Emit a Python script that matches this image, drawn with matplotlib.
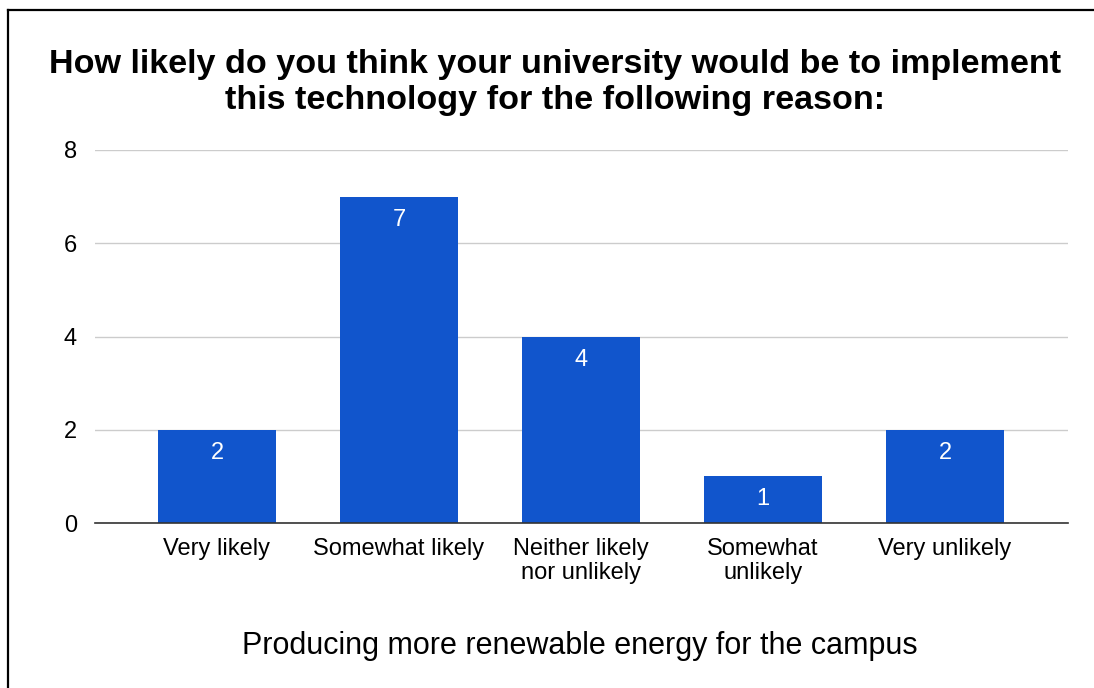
import matplotlib
matplotlib.use("Agg")
import matplotlib.pyplot as plt
from matplotlib.lines import Line2D

categories = ["Very likely", "Somewhat likely", "Neither likely\nnor unlikely",
              "Somewhat\nunlikely", "Very unlikely"]
counts = [2, 7, 4, 1, 2]
y_ticks = [0, 2, 4, 6, 8]

title = ("How likely do you think your university would be to implement\n"
         "this technology for the following reason:")
x_title = "Producing more renewable energy for the campus"

plt.rcParams["font.family"] = ["Liberation Sans", "DejaVu Sans"]

W, H = 1094, 688
fig = plt.figure(figsize=(W / 100, H / 100), dpi=100)
fig.patch.set_facecolor("white")

# plot area in pixel coordinates
left, right, top, bottom = 95, 1068, 150, 523
ax = fig.add_axes([left / W, 1 - bottom / H, (right - left) / W, (bottom - top) / H])

bar_color = "#1155cc"
x = list(range(len(categories)))
ax.bar(x, counts, width=0.65, color=bar_color, zorder=3)

for xi, v in zip(x, counts):
    ax.annotate(str(v), (xi, v), xytext=(0, -23), textcoords="offset pixels",
                ha="center", va="center", color="white", fontsize=17, zorder=4)

ax.set_ylim(0, 8)
ax.set_xlim(-0.67, 4.676)
ax.set_yticks(y_ticks)
ax.set_xticks(x)
ax.set_xticklabels(categories, fontsize=17, linespacing=1.12)
ax.tick_params(axis="both", length=0, labelsize=17, colors="#000000")
ax.tick_params(axis="y", pad=13)
ax.tick_params(axis="x", pad=11)

ax.grid(axis="y", color="#cccccc", linewidth=1, zorder=0)
ax.grid(axis="x", visible=False)
for s in ["top", "right", "left"]:
    ax.spines[s].set_visible(False)
ax.spines["bottom"].set_color("#333333")
ax.spines["bottom"].set_linewidth(1.2)
ax.spines["bottom"].set_zorder(5)

fig.text(555 / W, 1 - 82.5 / H, title, ha="center", va="center",
         fontsize=24.6, fontweight="bold", linespacing=1.21)
fig.text(580 / W, 1 - 646 / H, x_title, ha="center", va="center", fontsize=22)

# frame lines along the top and left edges
fig.add_artist(Line2D([8 / W, 1], [1 - 10 / H, 1 - 10 / H], color="black", linewidth=1.6,
                      transform=fig.transFigure))
fig.add_artist(Line2D([8 / W, 8 / W], [0, 1 - 10 / H], color="black", linewidth=1.6,
                      transform=fig.transFigure))

fig.savefig("out.png", dpi=100, facecolor="white")
